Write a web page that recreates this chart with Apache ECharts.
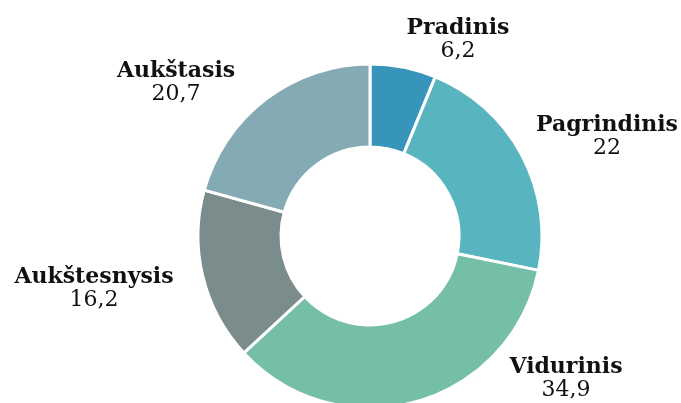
<!DOCTYPE html>
<html>
<head>
<meta charset="utf-8">
<script src="https://cdn.jsdelivr.net/npm/echarts@6/dist/echarts.min.js"></script>
<style>
  html, body { margin: 0; padding: 0; background: #fff; }
  #chart { width: 681px; height: 403px; }
</style>
</head>
<body>
<div id="chart"></div>
<script>
var categories = ['Pradinis', 'Pagrindinis', 'Vidurinis', 'Aukštesnysis', 'Aukštasis']
var values = [6.2, 22, 34.9, 16.2, 20.7]
var colors = ['#3795bb', '#58b5c0', '#75bea7', '#7a8c8c', '#84abb4']

// where each label block sits (center x, middle y)
var labelPos = [[458, 40], [607, 137], [566, 379], [94, 289], [176, 83]]

var chart = echarts.init(document.getElementById('chart'))

chart.setOption({
  animation: false,
  series: [{
    type: 'pie',
    center: [370, 236],
    radius: [89, 172],
    startAngle: 90,
    clockwise: true,
    itemStyle: {
      borderColor: '#fff',
      borderWidth: 3
    },
    label: {
      show: true,
      position: 'outside',
      overflow: 'none',
      width: 300,
      formatter: function (p) {
        return '{n|' + p.name + '}\n{v|' + String(p.value).replace('.', ',') + '}'
      },
      rich: {
        n: {
          fontFamily: 'DejaVu Serif',
          fontWeight: 'bold',
          fontSize: 22,
          lineHeight: 23,
          color: '#111'
        },
        v: {
          fontFamily: 'DejaVu Serif',
          fontSize: 22,
          lineHeight: 23,
          color: '#111'
        }
      }
    },
    labelLine: { show: false },
    labelLayout: function (params) {
      var p = labelPos[params.dataIndex]
      return { x: p[0], y: p[1], align: 'center', verticalAlign: 'middle' }
    },
    data: categories.map(function (c, i) {
      return { name: c, value: values[i], itemStyle: { color: colors[i] } }
    })
  }]
})
</script>
</body>
</html>
